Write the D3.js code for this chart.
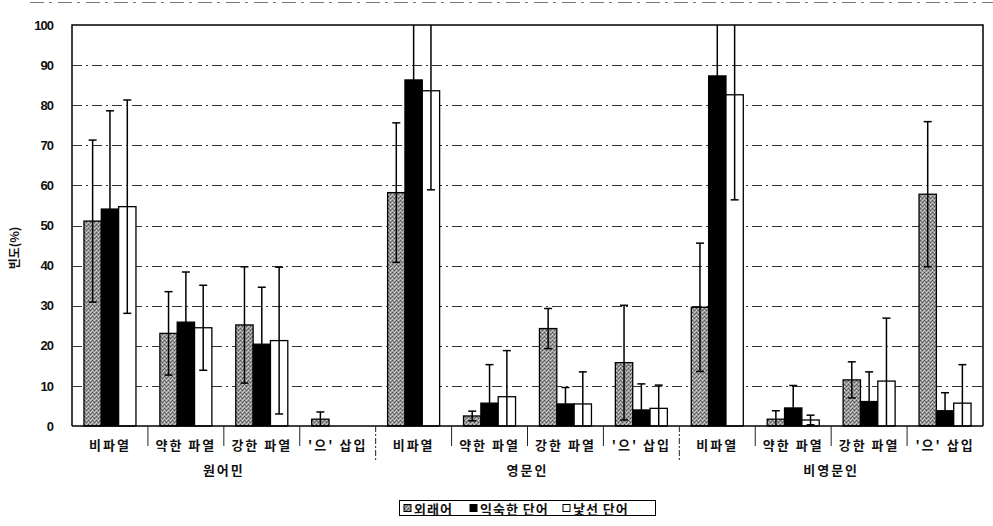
<!DOCTYPE html>
<html>
<head>
<meta charset="utf-8">
<script src="https://cdn.jsdelivr.net/npm/d3@7"></script>
<style>
  html, body { margin: 0; padding: 0; background: #fff; }
  svg { display: block; }
  text { font-family: "Noto Sans CJK KR", "Noto Sans", sans-serif; fill: #111; }
  .num { font-family: "Liberation Sans", Arial, sans-serif; }
</style>
</head>
<body>
<svg id="chart" width="993" height="526"></svg>
<script>
// Frequency (%) of each repair type by word type, for three speaker groups
const groups = ["원어민", "영문인", "비영문인"];
const types = ["비파열", "약한 파열", "강한 파열", "'으' 삽입"];
const seriesNames = ["외래어", "익숙한 단어", "낯선 단어"];

// values in order: 원어민 ×4, 영문인 ×4, 비영문인 ×4
const loanValues     = [51.1, 23.1, 25.2, 1.7, 58.2, 2.5, 24.3, 15.8, 29.6, 1.7, 11.5, 57.8];
const loanErrors     = [20.2, 10.4, 14.5, 1.8, 17.4, 1.2, 5.0, 14.3, 16.0, 2.1, 4.5, 18.1];
const familiarValues = [54.1, 25.9, 20.4, 0, 86.3, 5.7, 5.5, 4.0, 87.3, 4.5, 6.1, 3.8];
const familiarErrors = [24.5, 12.5, 14.2, 0, 16.0, 9.6, 4.1, 6.5, 15.0, 5.6, 7.4, 4.5];
const novelValues    = [54.7, 24.5, 21.3, 0, 83.6, 7.3, 5.5, 4.4, 82.6, 1.5, 11.2, 5.7];
const novelErrors    = [26.6, 10.6, 18.3, 0, 24.7, 11.5, 8.0, 5.8, 26.2, 1.2, 15.7, 9.6];
const yTicks = [0, 10, 20, 30, 40, 50, 60, 70, 80, 90, 100];

const seriesValues = [loanValues, familiarValues, novelValues];
const seriesErrors = [loanErrors, familiarErrors, novelErrors];

const svg = d3.select("#chart");
const plotL = 72, plotR = 983, plotT = 25, plotB = 426;

// dotted grey fill for 외래어
const defs = svg.append("defs");
const pat = defs.append("pattern").attr("id", "stipple")
  .attr("width", 4).attr("height", 4).attr("patternUnits", "userSpaceOnUse");
pat.append("rect").attr("width", 4).attr("height", 4).attr("fill", "#9a9a9a");
[[0,0,"#505050"],[2,2,"#505050"],[2,0,"#cfcfcf"],[0,2,"#cfcfcf"],[1,1,"#7a7a7a"],[3,3,"#bbbbbb"],[3,1,"#707070"]]
  .forEach(([px, py, c]) => pat.append("rect").attr("x", px).attr("y", py).attr("width", 1).attr("height", 1).attr("fill", c));
defs.append("clipPath").attr("id", "plotClip").append("rect")
  .attr("x", plotL - 10).attr("y", plotT).attr("width", plotR - plotL + 20).attr("height", plotB - plotT + 1);

const fills = ["url(#stipple)", "#000", "#fff"];

const keys = d3.range(groups.length * types.length);
const x = d3.scaleBand().domain(keys).range([plotL, plotR]).paddingInner(0).paddingOuter(0);
const barsWidth = 52;
const xs = d3.scaleBand().domain(d3.range(seriesNames.length)).range([0, barsWidth]);
const y = d3.scaleLinear().domain([0, 100]).range([plotB, plotT]);

// faint rule across the very top
svg.append("line").attr("x1", 30).attr("x2", 993).attr("y1", 2.5).attr("y2", 2.5)
  .attr("stroke", "#777").attr("stroke-width", 1).attr("stroke-dasharray", "14,5,3,6");

// horizontal gridlines
svg.append("g").selectAll("line").data(yTicks.filter(t => t > 0 && t < 100)).join("line")
  .attr("x1", plotL).attr("x2", plotR)
  .attr("y1", d => Math.round(y(d)) + 0.5).attr("y2", d => Math.round(y(d)) + 0.5)
  .attr("stroke", "#333").attr("stroke-width", 1).attr("stroke-dasharray", "10,4,2,4");

// y axis
const yAxis = d3.axisLeft(y).tickValues(yTicks).tickSize(0).tickPadding(19);
const ya = svg.append("g").attr("transform", `translate(${plotL},0)`).call(yAxis);
ya.select(".domain").remove();
ya.selectAll("text").attr("class", "num").style("font-size", "13px").style("font-weight", "bold")
  .style("letter-spacing", "-1px").style("fill", "#111").attr("font-family", null);

// bars
const barLayer = svg.append("g");
seriesNames.forEach((name, s) => {
  barLayer.append("g").selectAll("rect").data(keys.filter(k => seriesValues[s][k] > 0)).join("rect")
    .attr("x", k => x(k) + (x.bandwidth() - barsWidth) / 2 + xs(s))
    .attr("width", xs.bandwidth())
    .attr("y", k => y(seriesValues[s][k]))
    .attr("height", k => y(0) - y(seriesValues[s][k]))
    .attr("fill", fills[s]).attr("stroke", "#000").attr("stroke-width", 1.3);
});

// error bars
const errLayer = svg.append("g").attr("clip-path", "url(#plotClip)");
seriesNames.forEach((name, s) => {
  keys.filter(k => seriesErrors[s][k] > 0).forEach(k => {
    const cx = x(k) + (x.bandwidth() - barsWidth) / 2 + xs(s) + xs.bandwidth() / 2;
    const v = seriesValues[s][k], e = seriesErrors[s][k];
    const lo = Math.max(0, v - e), hi = v + e;
    const g = errLayer.append("g").attr("stroke", "#000").attr("stroke-width", 1.5);
    g.append("line").attr("x1", cx).attr("x2", cx).attr("y1", y(lo)).attr("y2", y(hi));
    g.append("line").attr("x1", cx - 4).attr("x2", cx + 4).attr("y1", y(hi)).attr("y2", y(hi));
    if (v - e > 0) g.append("line").attr("x1", cx - 4).attr("x2", cx + 4).attr("y1", y(lo)).attr("y2", y(lo));
  });
});

// plot frame
svg.append("path")
  .attr("d", `M${plotL},${plotB}V${plotT}H${plotR}V${plotB}`)
  .attr("fill", "none").attr("stroke", "#000").attr("stroke-width", 1.5);
svg.append("line").attr("x1", plotL).attr("x2", plotR).attr("y1", plotB).attr("y2", plotB)
  .attr("stroke", "#000").attr("stroke-width", 1.5);

// category boundary ticks and group separators
const bounds = d3.range(1, keys.length);
svg.append("g").selectAll("line").data(bounds).join("line")
  .attr("x1", k => x(k)).attr("x2", k => x(k))
  .attr("y1", plotB).attr("y2", k => k % types.length === 0 ? 462 : 446)
  .attr("stroke", "#222").attr("stroke-width", 1)
  .attr("stroke-dasharray", k => k % types.length === 0 ? "6,2,2,2" : null);

// category labels
svg.append("g").selectAll("text").data(keys).join("text")
  .attr("x", k => x(k) + x.bandwidth() / 2).attr("y", 450)
  .attr("text-anchor", "middle").style("font-size", "13px").style("font-weight", "bold")
  .style("letter-spacing", "2px")
  .text(k => types[k % types.length]);

// group labels
svg.append("g").selectAll("text").data(groups).join("text")
  .attr("x", (g, i) => x(i * types.length) + x.bandwidth() * types.length / 2).attr("y", 475)
  .attr("text-anchor", "middle").style("font-size", "13px").style("font-weight", "bold")
  .style("letter-spacing", "2px")
  .text(g => g);

// y axis title
svg.append("text").attr("transform", "translate(19,248) rotate(-90)")
  .attr("text-anchor", "middle").style("font-size", "12px").style("font-weight", "bold").text("빈도(%)");

// legend
const legend = svg.append("g");
legend.append("rect").attr("x", 399.5).attr("y", 500.5).attr("width", 256).attr("height", 15)
  .attr("fill", "#fff").attr("stroke", "#000").attr("stroke-width", 1);
const legendX = [404, 470, 563];
seriesNames.forEach((name, s) => {
  legend.append("rect").attr("x", legendX[s]).attr("y", 504.5).attr("width", 7).attr("height", 7)
    .attr("fill", fills[s]).attr("stroke", "#000").attr("stroke-width", 1);
  legend.append("text").attr("x", legendX[s] + 10).attr("y", 513.5)
    .style("font-size", "13px").style("font-weight", "bold").style("letter-spacing", "1px").text(name);
});
</script>
</body>
</html>
